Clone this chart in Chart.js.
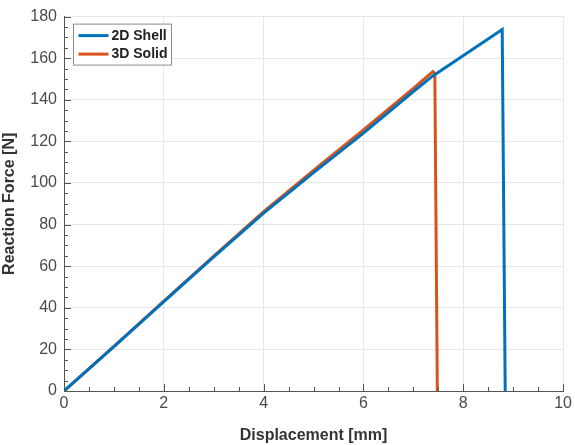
<!DOCTYPE html>
<html>
<head>
<meta charset="utf-8">
<script src="https://cdn.jsdelivr.net/npm/chart.js@4/dist/chart.umd.min.js"></script>
<style>
html,body{margin:0;padding:0;background:#fff;}
#wrap{width:575px;height:445px;position:relative;}
</style>
</head>
<body>
<div id="wrap"><canvas id="c" width="575" height="445"></canvas></div>
<script>
const seriesNames = ['2D Shell', '3D Solid'];
const seriesColors = ['#0072BD', '#D95319'];
const shellX = [0, 1, 2, 3, 4, 5, 6, 7, 7.39, 8.78, 8.84];
const shellY = [0, 21.3, 43, 64.5, 85.5, 105, 124, 144, 151.5, 173.8, 0];
const solidX = [0, 1, 2, 3, 4, 5, 6, 7, 7.39, 7.43, 7.48];
const solidY = [0, 21.5, 43.2, 64.8, 86.2, 106, 125.5, 145.5, 153.6, 152.5, 0];
const xTicks = [0, 2, 4, 6, 8, 10];
const yTicks = [0, 20, 40, 60, 80, 100, 120, 140, 160, 180];
const xTitle = 'Displacement [mm]';
const yTitle = 'Reaction Force [N]';

function pts(xs, ys){ return xs.map((x,i)=>({x:x, y:ys[i]})); }

const isMajor = (v, list) => list.some(t => Math.abs(t - v) < 1e-6);

const innerTicks = {
  id: 'innerTicks',
  afterDraw(chart){
    const ctx = chart.ctx, a = chart.chartArea;
    const xs = chart.scales.x, ys = chart.scales.y;
    ctx.save();
    ctx.strokeStyle = '#555';
    ctx.lineWidth = 1;
    ctx.beginPath();
    xs.ticks.forEach(t => {
      const px = Math.round(xs.getPixelForValue(t.value)) + 0.5;
      const len = isMajor(t.value, xTicks) ? 7 : 4;
      ctx.moveTo(px, a.bottom); ctx.lineTo(px, a.bottom - len);
    });
    ys.ticks.forEach(t => {
      const py = Math.round(ys.getPixelForValue(t.value)) + 0.5;
      const len = isMajor(t.value, yTicks) ? 7 : 4;
      ctx.moveTo(a.left, py); ctx.lineTo(a.left + len, py);
    });
    ctx.stroke();
    ctx.restore();
  }
};

const boxLegend = {
  id: 'boxLegend',
  afterDraw(chart){
    const ctx = chart.ctx, a = chart.chartArea;
    const x0 = a.left + 9.5, y0 = a.top + 7.5, w = 98, h = 41;
    ctx.save();
    ctx.fillStyle = '#fff';
    ctx.fillRect(x0, y0, w, h);
    ctx.strokeStyle = '#8a8a8a';
    ctx.lineWidth = 1;
    ctx.strokeRect(x0, y0, w, h);
    ctx.font = 'bold 14px "Liberation Sans", Arial, sans-serif';
    ctx.textBaseline = 'middle';
    chart.data.datasets.forEach((ds, i) => {
      const cy = y0 + 11.5 + i * 18.5;
      ctx.strokeStyle = ds.borderColor;
      ctx.lineWidth = 3;
      ctx.beginPath();
      ctx.moveTo(x0 + 5, cy); ctx.lineTo(x0 + 35, cy);
      ctx.stroke();
      ctx.fillStyle = '#222';
      ctx.fillText(ds.label, x0 + 38, cy + 0.5);
    });
    ctx.restore();
  }
};

new Chart(document.getElementById('c'), {
  type: 'line',
  data: {
    datasets: [
      { label: seriesNames[0], data: pts(shellX, shellY), borderColor: seriesColors[0], backgroundColor: seriesColors[0], borderWidth: 3, pointRadius: 0, tension: 0, fill: false },
      { label: seriesNames[1], data: pts(solidX, solidY), borderColor: seriesColors[1], backgroundColor: seriesColors[1], borderWidth: 3, pointRadius: 0, tension: 0, fill: false }
    ]
  },
  options: {
    responsive: false,
    animation: false,
    events: [],
    layout: { padding: { top: 13, right: 11, left: 0, bottom: 0 } },
    plugins: { legend: { display: false }, tooltip: { enabled: false } },
    scales: {
      x: {
        type: 'linear', min: 0, max: 10,
        afterFit(s){ s.height = 54; },
        ticks: {
          stepSize: 0.5, autoSkip: false, maxRotation: 0, padding: 3,
          color: '#4a4a4a',
          font: { family: '"Liberation Sans", Arial, sans-serif', size: 16 },
          callback: v => isMajor(v, xTicks) ? String(v) : ''
        },
        grid: {
          drawTicks: false,
          color: c => isMajor(c.tick.value, xTicks) ? '#e6e6e6' : 'rgba(0,0,0,0)',
          lineWidth: 1
        },
        border: { color: '#555', width: 1 },
        title: { display: true, text: xTitle, color: '#333', padding: { top: 1, bottom: 0 },
          font: { family: '"Liberation Sans", Arial, sans-serif', size: 16, weight: 'bold' } }
      },
      y: {
        type: 'linear', min: 0, max: 180,
        afterFit(s){ s.width = 64; },
        ticks: {
          stepSize: 5, autoSkip: false, padding: 7,
          color: '#4a4a4a',
          font: { family: '"Liberation Sans", Arial, sans-serif', size: 16 },
          callback: v => isMajor(v, yTicks) ? String(v) : ''
        },
        grid: {
          drawTicks: false,
          color: c => isMajor(c.tick.value, yTicks) ? '#e6e6e6' : 'rgba(0,0,0,0)',
          lineWidth: 1
        },
        border: { color: '#555', width: 1 },
        title: { display: true, text: yTitle, color: '#333', padding: { top: 0, bottom: 3 },
          font: { family: '"Liberation Sans", Arial, sans-serif', size: 16, weight: 'bold' } }
      }
    }
  },
  plugins: [innerTicks, boxLegend]
});
</script>
</body>
</html>
